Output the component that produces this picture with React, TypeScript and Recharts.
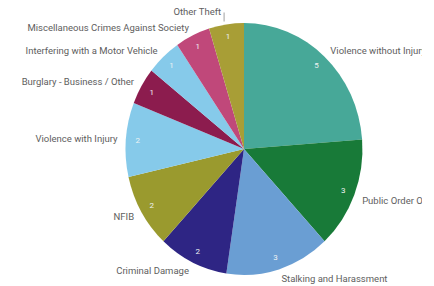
import React from 'react';
import { PieChart, Pie, Cell } from 'recharts';

const categories = [
  'Violence without Injury',
  'Public Order Offences',
  'Stalking and Harassment',
  'Criminal Damage',
  'NFIB',
  'Violence with Injury',
  'Burglary - Business / Other',
  'Interfering with a Motor Vehicle',
  'Miscellaneous Crimes Against Society',
  'Other Theft',
];
const counts = [5, 3, 3, 2, 2, 2, 1, 1, 1, 1];
const colors = [
  '#47a898', '#187a38', '#6a9ed3', '#2e2584', '#9a9a2e',
  '#86caea', '#8c1c4e', '#86caea', '#c0487a', '#a89e36',
];

const data = categories.map((name, i) => ({ name, value: counts[i] }));

const CX = 244;
const CY = 149;
const R = 126;
const SX = 0.94;
const RAD = Math.PI / 180;
const TRANSFORM = `translate(${CX},${CY}) scale(${SX},1) translate(${-CX},${-CY})`;

const renderLabel = (props: any) => {
  const { cx, cy, midAngle, outerRadius, value, name, index } = props;
  const cos = Math.cos(-midAngle * RAD);
  const sin = Math.sin(-midAngle * RAD);
  const ri = outerRadius * 0.9;
  const ix = cx + ri * cos * SX;
  const iy = cy + ri * sin;
  const ro = outerRadius + 9;
  let ox = cx + ro * cos * SX;
  let oy = cy + ro * sin;
  const anchor = cos >= 0 ? 'start' : 'end';
  if (index === 1) { oy += 2; }
  if (index === 9) { ox -= 4; oy -= 4; }
  return (
    <g key={`lbl-${index}`}>
      <text x={ix} y={iy} fill="#eef3f3" fontSize={8} textAnchor="middle" dominantBaseline="central" fontFamily="Roboto">
        {value}
      </text>
      {index === 9 && (
        <line x1={ox + 3} y1={oy + 1} x2={ox + 3} y2={oy + 10} stroke="#888" strokeWidth={0.8} />
      )}
      <text x={ox} y={oy} fill="#5e5e5e" fontSize={9.5} textAnchor={anchor} dominantBaseline="central" fontFamily="Roboto">
        {name}
      </text>
    </g>
  );
};

export default function App() {
  return (
    <div style={{ position: 'absolute', left: 0, top: 0, width: 434, height: 286, background: '#fff' }}>
      <PieChart width={422} height={286} margin={{ top: 0, right: 0, bottom: 0, left: 0 }}>
        <Pie
          data={data}
          dataKey="value"
          nameKey="name"
          cx={CX}
          cy={CY}
          outerRadius={R}
          startAngle={90}
          endAngle={-270}
          stroke="none"
          label={renderLabel}
          labelLine={false}
          isAnimationActive={false}
        >
          {data.map((d, i) => (
            <Cell key={d.name} fill={colors[i]} transform={TRANSFORM} />
          ))}
        </Pie>
      </PieChart>
    </div>
  );
}
